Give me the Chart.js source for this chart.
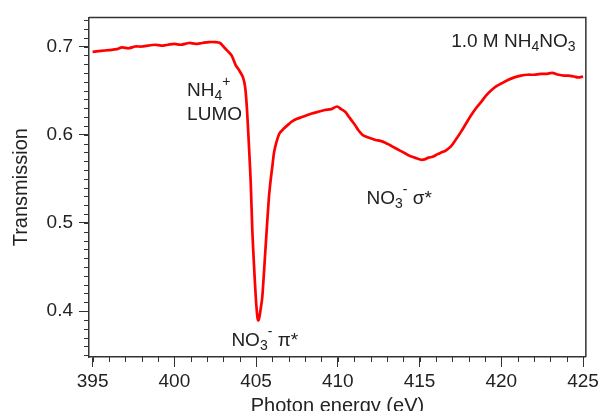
<!DOCTYPE html>
<html><head><meta charset="utf-8">
<script src="https://cdn.jsdelivr.net/npm/chart.js@4.4.0/dist/chart.umd.min.js"></script>
<style>html,body{margin:0;padding:0;background:#fff;overflow:hidden}canvas{display:block}</style>
</head><body><canvas id="c" width="602" height="411"></canvas>
<script>
const energy = [395.0,395.5,396.0,396.5,396.8,397.2,397.6,398.0,398.4,398.8,399.2,399.6,400.0,400.4,400.9,401.3,401.7,402.1,402.5,402.8,403.0,403.25,403.5,403.75,404.0,404.2,404.33,404.42,404.5,404.57,404.67,404.77,404.87,404.98,405.07,405.13,405.2,405.3,405.38,405.58,405.78,405.9,406.0,406.1,406.25,406.45,406.7,407.0,407.2,407.5,407.8,408.1,408.4,408.8,409.2,409.6,409.95,410.2,410.45,410.65,410.85,411.05,411.26,411.5,411.7,412.0,412.3,412.6,412.9,413.2,413.5,413.8,414.1,414.4,414.7,415.1,415.3,415.55,415.8,416.1,416.35,416.6,416.93,417.2,417.54,417.85,418.15,418.45,418.76,419.05,419.37,419.7,420.0,420.4,420.8,421.2,421.6,422.0,422.4,422.8,423.1,423.5,423.83,424.1,424.44,424.7,425.0];
const transmission = [0.694,0.695,0.696,0.697,0.699,0.698,0.700,0.700,0.701,0.702,0.701,0.702,0.703,0.702,0.704,0.703,0.704,0.705,0.705,0.704,0.700,0.695,0.690,0.679,0.672,0.665,0.654,0.635,0.610,0.585,0.547,0.491,0.453,0.416,0.395,0.3895,0.393,0.405,0.416,0.472,0.528,0.550,0.565,0.580,0.592,0.602,0.607,0.612,0.615,0.618,0.620,0.622,0.624,0.626,0.628,0.629,0.632,0.629,0.626,0.621,0.616,0.611,0.605,0.600,0.598,0.596,0.594,0.593,0.591,0.588,0.585,0.582,0.579,0.576,0.574,0.5716,0.572,0.574,0.575,0.578,0.580,0.582,0.587,0.594,0.6035,0.613,0.622,0.630,0.637,0.644,0.650,0.655,0.658,0.662,0.665,0.667,0.668,0.668,0.669,0.669,0.670,0.668,0.667,0.667,0.666,0.665,0.666];
const xTicks = [395,400,405,410,415,420,425];
const yTicks = [0.4,0.5,0.6,0.7];
const xLabel = 'Photon energy (eV)';
const yLabel = 'Transmission';

const FONT = "'Liberation Sans', Arial, sans-serif";
const INK = '#222';

// annotation rich-text runs: [text, kind] kind: n normal, sub, sup
const annotations = [
  {x: 400.78, y: 0.6437, runs: [['NH','n'],['4','sub'],['+','sup']]},
  {x: 400.78, y: 0.6167, runs: [['LUMO','n']]},
  {x: 403.49, y: 0.3602, runs: [['NO','n'],['3','sub'],['-','sup'],[' \u03C0*','n']]},
  {x: 411.75, y: 0.5213, runs: [['NO','n'],['3','sub'],['-','sup'],[' \u03C3*','n']]},
  {x: 416.93, y: 0.7000, runs: [['1.0 M NH','n'],['4','sub'],['NO','n'],['3','sub']]}
];

function drawRuns(ctx, x, y, runs) {
  ctx.textBaseline = 'alphabetic';
  ctx.textAlign = 'left';
  ctx.fillStyle = INK;
  let cx = x;
  for (const [t, k] of runs) {
    if (k === 'n') { ctx.font = '19px ' + FONT; ctx.fillText(t, cx, y); cx += ctx.measureText(t).width; }
    else if (k === 'sub') { ctx.font = '14px ' + FONT; ctx.fillText(t, cx, y + 4); cx += ctx.measureText(t).width; }
    else { ctx.font = '14px ' + FONT; ctx.fillText(t, cx, y - 10); cx += ctx.measureText(t).width; }
  }
}

const decor = {
  id: 'decor',
  afterDraw(chart) {
    const ctx = chart.ctx, xs = chart.scales.x, ys = chart.scales.y, a = chart.chartArea;
    ctx.save();
    ctx.strokeStyle = '#333';
    ctx.lineWidth = 1.5;
    ctx.beginPath();
    ctx.moveTo(a.left, a.top); ctx.lineTo(a.right, a.top); ctx.lineTo(a.right, a.bottom);
    ctx.stroke();
    ctx.lineWidth = 1;
    ctx.beginPath();
    for (let v = 395; v <= 425; v += 1) {
      const px = Math.round(xs.getPixelForValue(v)) + 0.5;
      ctx.moveTo(px, a.bottom); ctx.lineTo(px, a.bottom + 5);
    }
    for (let i = 35; i <= 73; i++) {
      const py = Math.round(ys.getPixelForValue(i / 100)) + 0.5;
      ctx.moveTo(a.left, py); ctx.lineTo(a.left - 5, py);
    }
    ctx.stroke();
    for (const an of annotations) {
      drawRuns(ctx, xs.getPixelForValue(an.x), ys.getPixelForValue(an.y), an.runs);
    }
    ctx.restore();
  }
};

new Chart(document.getElementById('c'), {
  type: 'line',
  data: { datasets: [{
    data: energy.map((e, i) => ({x: e, y: transmission[i]})),
    borderColor: '#ff0000', borderWidth: 2.7, pointRadius: 0, tension: 0.3, fill: false
  }]},
  options: {
    responsive: false, animation: false, devicePixelRatio: 1,
    layout: { padding: { left: 0, right: 13, top: 15, bottom: 0 } },
    plugins: { legend: { display: false }, tooltip: { enabled: false } },
    scales: {
      x: {
        type: 'linear', min: 394.78, max: 425.17,
        afterBuildTicks: s => { s.ticks = xTicks.map(v => ({value: v})); },
        afterFit: s => { s.height = 54; },
        grid: { drawOnChartArea: false, drawTicks: true, tickLength: 10, color: '#333', lineWidth: 1 },
        border: { display: true, color: '#333', width: 1.5 },
        ticks: { color: INK, font: { family: FONT, size: 19 }, padding: 3, maxRotation: 0 },
        title: { display: true, text: xLabel, color: INK, font: { family: FONT, size: 20 }, padding: { top: 0, bottom: -7 } }
      },
      y: {
        type: 'linear', min: 0.348, max: 0.733,
        afterBuildTicks: s => { s.ticks = yTicks.map(v => ({value: v})); },
        afterFit: s => { s.width = 89; },
        grid: { drawOnChartArea: false, drawTicks: true, tickLength: 10, color: '#333', lineWidth: 1 },
        border: { display: true, color: '#333', width: 1.5 },
        ticks: { color: INK, font: { family: FONT, size: 19 }, padding: 6, callback: v => v.toFixed(1) },
        title: { display: true, text: yLabel, color: INK, font: { family: FONT, size: 20 }, padding: { top: 9, bottom: 0 } }
      }
    }
  },
  plugins: [decor]
});
</script></body></html>
